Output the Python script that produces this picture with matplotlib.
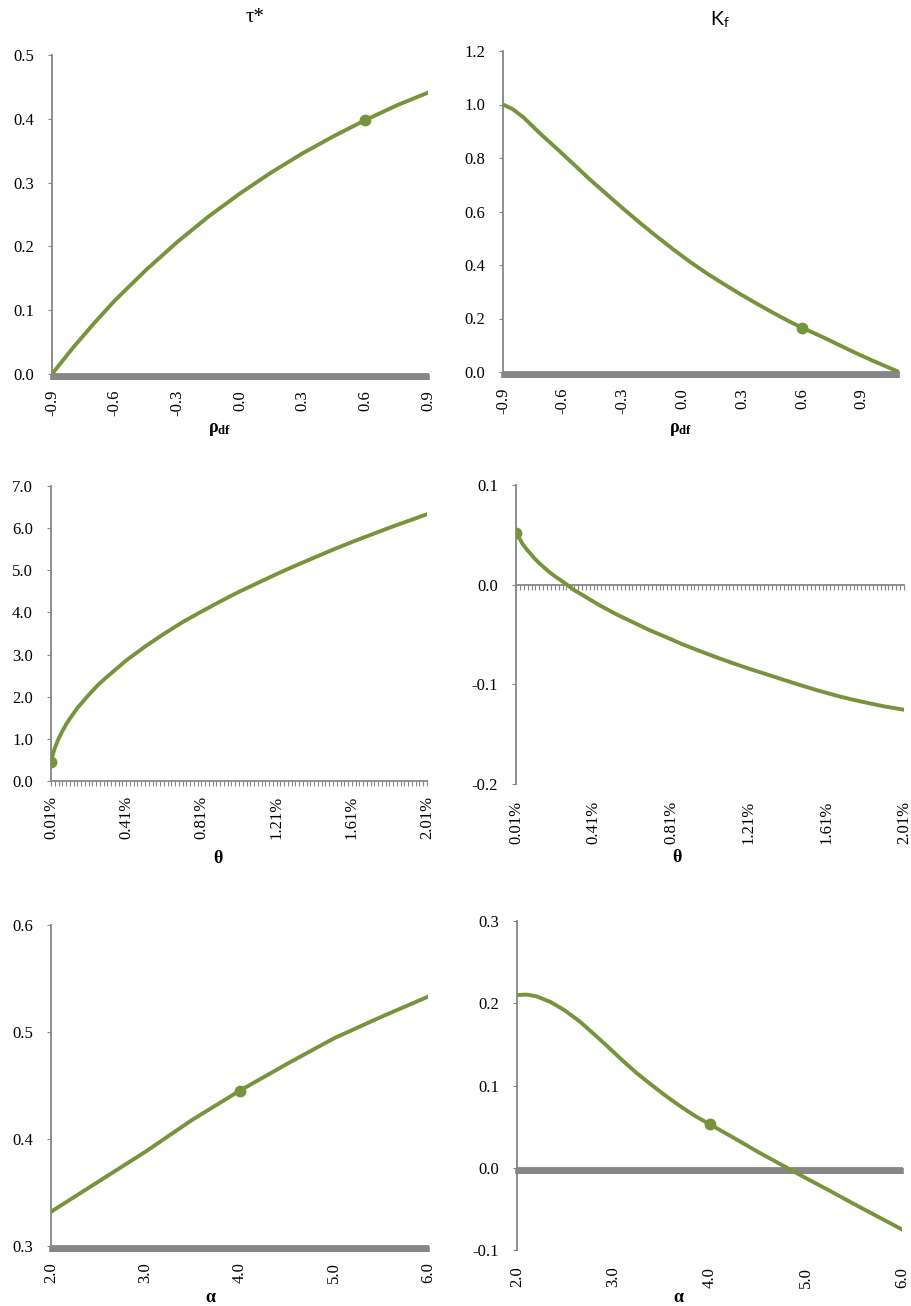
"""Six-panel sensitivity chart: tau* and K_f against rho_df, theta and alpha."""
import matplotlib
matplotlib.use("Agg")
import matplotlib.pyplot as plt
from matplotlib.ticker import FixedLocator, NullFormatter
import numpy as np

GREEN = "#77933C"
AXIS_GRAY = "#868686"

# ---- data ----
# tau* vs rho_df
rho_a = [-0.9, -0.8, -0.7, -0.6, -0.45, -0.3, -0.15, 0.0, 0.15, 0.3, 0.45,
         0.6, 0.75, 0.9]
tau_rho = [0.0, 0.041, 0.079, 0.115, 0.163, 0.207, 0.247, 0.283, 0.316,
           0.346, 0.373, 0.398, 0.421, 0.441]
# K_f vs rho_df
rho_b = [-0.9, -0.85, -0.796, -0.713, -0.63, -0.546, -0.463, -0.379, -0.296,
         -0.212, -0.129, -0.045, 0.038, 0.122, 0.205, 0.289, 0.372, 0.456,
         0.539, 0.6, 0.706, 0.789, 0.873, 0.956, 1.087]
kf_rho = [1.0, 0.982, 0.951, 0.891, 0.835, 0.777, 0.719, 0.664, 0.610, 0.557,
          0.507, 0.458, 0.412, 0.369, 0.330, 0.292, 0.256, 0.221, 0.188,
          0.166, 0.130, 0.100, 0.070, 0.042, 0.0]
# tau* vs theta (in %)
theta_a = [0.01, 0.015, 0.02, 0.03, 0.04, 0.05, 0.07, 0.09, 0.11, 0.15, 0.21,
           0.26, 0.31, 0.41, 0.51, 0.61, 0.71, 0.81, 0.91, 1.01, 1.11, 1.21,
           1.31, 1.41, 1.51, 1.61, 1.71, 1.81, 1.91, 2.01]
tau_theta = [0.45, 0.55, 0.63, 0.78, 0.89, 1.0, 1.18, 1.34, 1.48, 1.73, 2.04,
             2.28, 2.48, 2.86, 3.19, 3.49, 3.77, 4.02, 4.26, 4.49, 4.70, 4.91,
             5.11, 5.30, 5.49, 5.67, 5.84, 6.01, 6.17, 6.33]
# K_f vs theta (in %)
theta_b = [0.01, 0.02, 0.032, 0.045, 0.067, 0.085, 0.101, 0.125, 0.152, 0.18,
           0.204, 0.24, 0.273, 0.31, 0.358, 0.40, 0.444, 0.53, 0.616, 0.70,
           0.788, 0.87, 0.959, 1.045, 1.131, 1.217, 1.303, 1.39, 1.474, 1.56,
           1.646, 1.73, 1.818, 1.91, 2.01]
kf_theta = [0.0523, 0.049, 0.045, 0.0405, 0.035, 0.031, 0.0273, 0.0225,
            0.0177, 0.013, 0.0093, 0.0045, 0.0, -0.0055, -0.011, -0.016,
            -0.021, -0.030, -0.038, -0.0458, -0.053, -0.060, -0.0667, -0.073,
            -0.079, -0.0847, -0.090, -0.0955, -0.1007, -0.1058, -0.1105,
            -0.1147, -0.1185, -0.1222, -0.1255]
# tau* vs alpha
alpha_a = [2.0, 2.5, 3.0, 3.5, 4.0, 4.5, 5.0, 5.5, 6.0]
tau_alpha = [0.332, 0.360, 0.388, 0.418, 0.445, 0.470, 0.494, 0.514, 0.533]
# K_f vs alpha
alpha_b = [2.0, 2.1, 2.2, 2.35, 2.5, 2.65, 2.8, 2.95, 3.1, 3.25, 3.4, 3.55,
           3.7, 3.85, 4.0, 4.25, 4.5, 4.75, 5.0, 5.25, 5.5, 5.75, 6.0]
kf_alpha = [0.210, 0.2105, 0.2085, 0.2015, 0.191, 0.178, 0.1625, 0.1465,
            0.130, 0.1145, 0.1005, 0.087, 0.0745, 0.063, 0.053, 0.0365,
            0.0195, 0.0035, -0.0125, -0.028, -0.044, -0.0595, -0.075]

# highlighted base-case points
rho_base, theta_base, alpha_base = 0.6, 0.01, 4.0

rho_labels = [-0.9, -0.6, -0.3, 0.0, 0.3, 0.6, 0.9]
theta_labels = [0.01, 0.41, 0.81, 1.21, 1.61, 2.01]
alpha_labels = [2.0, 3.0, 4.0, 5.0, 6.0]

plt.rcParams["font.family"] = ["Liberation Serif", "DejaVu Serif"]
plt.rcParams["mathtext.fontset"] = "custom"
plt.rcParams["mathtext.rm"] = "Liberation Serif"
plt.rcParams["mathtext.it"] = "Liberation Serif:italic"
plt.rcParams["mathtext.bf"] = "Liberation Serif:bold"

W, H = 911, 1306
fig = plt.figure(figsize=(W / 100, H / 100), dpi=100)


def add_ax(x0, y0, x1, y1):
    ax = fig.add_axes([x0 / W, 1 - y1 / H, (x1 - x0) / W, (y1 - y0) / H])
    ax._px = (x0, y0, x1, y1)
    return ax


def panel(ax, x, y, xbase, xlim, ylim, yticks, xticks, xfmt, dense,
          xlabel, label_xy, solid=True, zero_axis=False):
    ax.plot(x, y, color=GREEN, lw=2.8, solid_capstyle="round",
            solid_joinstyle="round", zorder=4)
    i = list(x).index(xbase)
    ax.plot([x[i]], [y[i]], "o", color=GREEN, ms=7.5, zorder=5)
    ax.set_xlim(*xlim)
    ax.set_ylim(*ylim)
    for s in ("top", "right"):
        ax.spines[s].set_visible(False)
    ax.spines["left"].set_color(AXIS_GRAY)
    ax.spines["left"].set_linewidth(1.3)
    ax.set_yticks(yticks)
    ax.set_yticklabels([f"{v:.1f}" for v in yticks])
    ax.tick_params(axis="y", direction="out", length=3, width=0.8,
                   color=AXIS_GRAY, pad=10, labelsize=12)
    ax.set_xticks(xticks)
    ax.set_xticklabels([xfmt.format(v) for v in xticks], rotation=90)
    tlen, twid = (4.5, 2.6) if solid else (3.6, 0.8)
    if zero_axis:
        ax.spines["bottom"].set_visible(False)
        ax.tick_params(axis="x", length=0, pad=12, labelsize=12)
        frac = (0 - ylim[0]) / (ylim[1] - ylim[0])
        sec = ax.secondary_xaxis(frac)
        sec.set_alignment("bottom")
        sec.spines["bottom"].set_color(AXIS_GRAY)
        sec.spines["bottom"].set_linewidth(1.3)
        sec.xaxis.set_major_locator(FixedLocator(dense))
        sec.xaxis.set_major_formatter(NullFormatter())
        sec.tick_params(axis="x", direction="out", length=tlen, width=twid,
                        color=AXIS_GRAY)
    else:
        ax.spines["bottom"].set_color(AXIS_GRAY)
        ax.spines["bottom"].set_linewidth(1.3)
        ax.xaxis.set_minor_locator(FixedLocator(dense))
        ax.tick_params(axis="x", which="both", direction="out", length=tlen,
                       width=twid, color=AXIS_GRAY, labelsize=12)
        ax.tick_params(axis="x", which="major", pad=7)
    # axis title placed in pixel terms relative to the plot area
    x0, y0, x1, y1 = ax._px
    ax.set_xlabel(xlabel, fontsize=13, fontweight="bold", va="center")
    ax.xaxis.set_label_coords((label_xy[0] - x0) / (x1 - x0),
                              (y1 - label_xy[1]) / (y1 - y0))


rho_lbl = r"ρ$_{\mathbf{df}}$"

ax = add_ax(52, 55, 428, 374)
panel(ax, rho_a, tau_rho, rho_base, (-0.9, 0.9), (0.0, 0.5),
      [0.0, 0.1, 0.2, 0.3, 0.4, 0.5], rho_labels, "{:.1f}",
      np.arange(-0.9, 0.9001, 0.01), rho_lbl, (220, 429))

ax = add_ax(503, 51, 899, 372)
panel(ax, rho_b, kf_rho, rho_base, (-0.9, 1.087), (0.0, 1.2),
      [0.0, 0.2, 0.4, 0.6, 0.8, 1.0, 1.2], rho_labels, "{:.1f}",
      np.arange(-0.9, 1.0871, 0.01), rho_lbl, (681, 429))

ax = add_ax(51, 486, 427, 781)
panel(ax, theta_a, tau_theta, theta_base, (0.01, 2.01), (0.0, 7.0),
      [0, 1, 2, 3, 4, 5, 6, 7], theta_labels, "{:.2f}%",
      np.arange(0.01, 2.0101, 0.02), "θ", (218, 858), solid=False)

ax = add_ax(516, 485, 904, 784)
panel(ax, theta_b, kf_theta, theta_base, (0.01, 2.01), (-0.2, 0.1),
      [-0.2, -0.1, 0.0, 0.1], theta_labels, "{:.2f}%",
      np.arange(0.01, 2.0101, 0.02), "θ", (677, 858), solid=False,
      zero_axis=True)

ax = add_ax(51, 925, 428, 1246)
panel(ax, alpha_a, tau_alpha, alpha_base, (2.0, 6.0), (0.3, 0.6),
      [0.3, 0.4, 0.5, 0.6], alpha_labels, "{:.1f}",
      np.arange(2.0, 6.0001, 0.02), "α", (210, 1297))

ax = add_ax(517, 921, 902, 1250)
panel(ax, alpha_b, kf_alpha, alpha_base, (2.0, 6.0), (-0.1, 0.3),
      [-0.1, 0.0, 0.1, 0.2, 0.3], alpha_labels, "{:.1f}",
      np.arange(2.0, 6.0001, 0.02), "α", (678, 1297), zero_axis=True)

fig.text(255 / W, 1 - 18 / H, "τ*", ha="center", va="center", fontsize=15)
fig.text(720 / W, 1 - 20 / H, r"K$_\mathregular{f}$", ha="center",
         va="center", fontsize=14, family="Lato")

fig.savefig("out.png", dpi=100)
